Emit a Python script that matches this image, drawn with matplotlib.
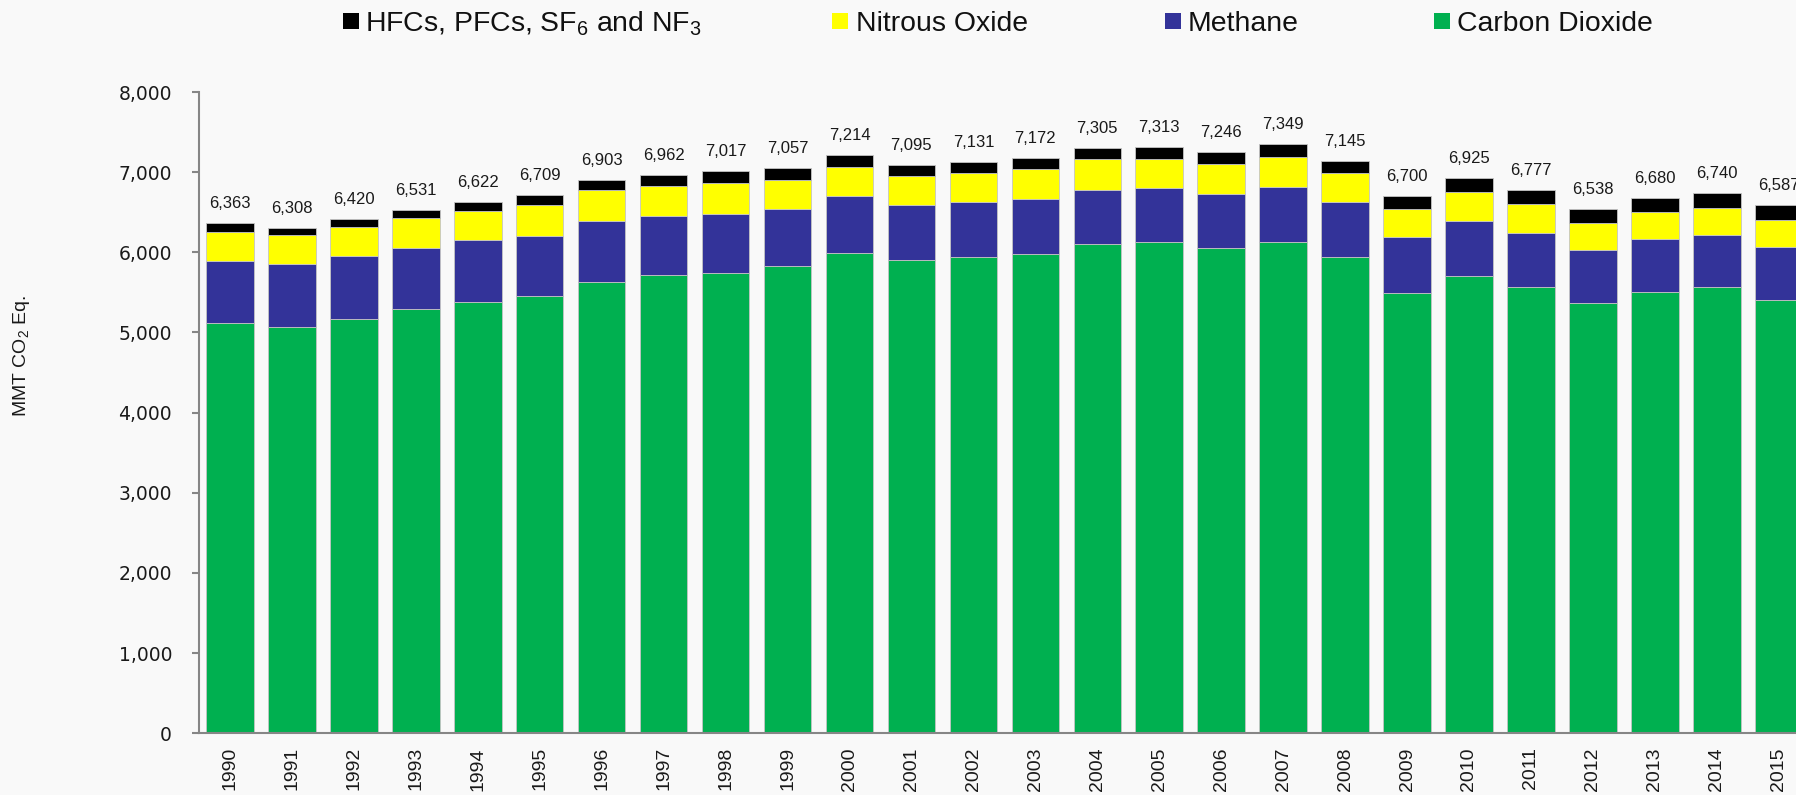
import matplotlib
matplotlib.use("Agg")
import matplotlib.pyplot as plt
from matplotlib.patches import Rectangle
from matplotlib.ticker import FuncFormatter
import numpy as np

plt.rcParams['mathtext.fontset'] = 'custom'
plt.rcParams['mathtext.rm'] = 'Liberation Sans'
plt.rcParams['mathtext.it'] = 'Liberation Sans:italic'
plt.rcParams['mathtext.bf'] = 'Liberation Sans:bold'

years = [str(y) for y in range(1990, 2016)]

# MMT CO2 Eq.
co2 = [5120, 5070, 5174, 5291, 5386, 5453, 5636, 5711, 5748, 5835,
       5997, 5901, 5939, 5985, 6101, 6135, 6051, 6126, 5939, 5490,
       5702, 5565, 5366, 5511, 5565, 5411]
methane = [778, 786, 786, 764, 769, 756, 756, 739, 727, 706,
           703, 695, 686, 686, 674, 673, 677, 686, 690, 695,
           690, 673, 660, 656, 652, 653]
n2o = [361, 357, 357, 374, 366, 378, 383, 378, 391, 367,
       361, 362, 361, 365, 386, 361, 374, 378, 357, 361,
       366, 366, 337, 342, 342, 336]
fgas = [104, 95, 103, 102, 101, 122, 128, 134, 151, 149,
        153, 137, 145, 136, 144, 144, 144, 159, 159, 154,
        167, 173, 175, 171, 181, 187]

series = [
    ('Carbon Dioxide', co2, '#00b050'),
    ('Methane', methane, '#333399'),
    ('Nitrous Oxide', n2o, '#ffff00'),
    (r'HFCs, PFCs, SF$_6$ and NF$_3$', fgas, '#000000'),
]

bg = '#f9f9f9'
W, H = 1796, 795
fig = plt.figure(figsize=(W / 100, H / 100), dpi=100, facecolor=bg)

step = 61.95
ax = fig.add_axes([199 / W, (H - 733.3) / H, 26 * step / W, (733.3 - 92) / H])
ax.set_facecolor(bg)

x = np.arange(len(years))
bottom = np.zeros(len(years))
for name, vals, col in series:
    ax.bar(x, vals, width=0.767, bottom=bottom, color=col,
           edgecolor='#c4c4c4', linewidth=0.6, zorder=2)
    bottom += np.array(vals)

for xi, tot in zip(x, bottom):
    ax.annotate(f'{int(tot):,}', (xi, tot), xytext=(0, 10.8),
                textcoords='offset points', ha='center', va='baseline',
                fontsize=12, family='Liberation Sans', color='#1a1a1a')

ax.set_xlim(-0.5, 25.5)
ax.set_ylim(0, 8000)
ax.set_yticks(range(0, 8001, 1000))
ax.yaxis.set_major_formatter(FuncFormatter(lambda v, p: f'{int(v):,}'))
ax.set_xticks(x)
ax.set_xticklabels(years, rotation=90, va='top', ha='center',
                   family='Liberation Sans')

for s in ['top', 'right']:
    ax.spines[s].set_visible(False)
for s in ['left', 'bottom']:
    ax.spines[s].set_color('#868686')
    ax.spines[s].set_linewidth(1.5)

ax.tick_params(axis='y', direction='out', length=5, width=1.5, color='#868686',
               pad=14.4, labelsize=13.5, labelcolor='#1a1a1a')
ax.tick_params(axis='x', length=0, pad=10, labelsize=14, labelcolor='#1a1a1a')

fig.text(22 / W, (H - 356) / H, r'MMT CO$_2$ Eq.', rotation=90,
         ha='center', va='center', fontsize=14, family='Liberation Sans',
         color='#1a1a1a')

# legend row at the top
legend_pos = [(343, 365), (832, 856), (1165, 1188), (1434, 1457)]
for (name, vals, col), (sx, tx) in zip(series[::-1], legend_pos):
    fig.patches.append(Rectangle((sx / W, (H - 29) / H), 16 / W, 16 / H,
                                 transform=fig.transFigure, facecolor=col,
                                 edgecolor='none'))
    fig.text(tx / W, (H - 31) / H, name, ha='left', va='baseline',
             fontsize=20.4, family='Liberation Sans', color='#111111')

fig.savefig('out.png', dpi=100, facecolor=bg)
